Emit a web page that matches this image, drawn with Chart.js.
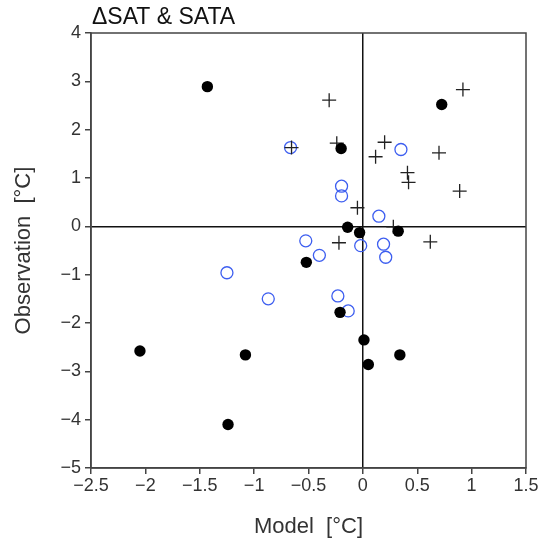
<!DOCTYPE html>
<html lang="en">
<head>
    <meta charset="UTF-8">
    <title>ΔSAT &amp; SATA</title>
    <script src="https://cdn.jsdelivr.net/npm/chart.js"></script>
    <style>
        body {
            margin: 0;
            background: #fff;
        }
        canvas {
            display: block;
        }
    </style>
</head>
<body>
    <canvas id="satChart" width="550" height="542"></canvas>

    <script>
        // Filled black circles
        const filledX = [-1.43, 0.725, -0.20, -0.14, -0.03, 0.325, -0.52, -0.21, 0.01, 0.34, 0.05, -2.05, -1.08, -1.24];
        const filledY = [2.89, 2.52, 1.61, -0.02, -0.13, -0.10, -0.745, -1.78, -2.35, -2.66, -2.86, -2.58, -2.66, -4.10];

        // Open blue circles
        const openX = [-0.665, 0.35, -0.196, -0.196, 0.147, -0.525, -0.40, -0.02, 0.19, 0.21, -1.25, -0.87, -0.23, -0.135];
        const openY = [1.63, 1.59, 0.83, 0.63, 0.21, -0.30, -0.60, -0.40, -0.37, -0.64, -0.96, -1.50, -1.44, -1.75];

        // Plus markers
        const plusX = [-0.31, 0.92, -0.656, -0.24, 0.20, 0.117, 0.70, 0.41, 0.42, 0.89, -0.05, 0.28, -0.22, 0.62];
        const plusY = [2.61, 2.83, 1.63, 1.72, 1.74, 1.44, 1.52, 1.11, 0.91, 0.73, 0.385, -0.01, -0.34, -0.32];

        const xTicks = [-2.5, -2, -1.5, -1, -0.5, 0, 0.5, 1, 1.5];
        const yTicks = [4, 3, 2, 1, 0, -1, -2, -3, -4, -5];

        const toPoints = (xs, ys) => xs.map((x, i) => ({ x, y: ys[i] }));
        const minus = v => String(v).replace('-', '\u2212');

        const fontFamily = "'Liberation Sans', Arial, sans-serif";
        const textColor = '#333';
        const axisColor = '#444';

        // frame on top/right plus the title text
        const frame = {
            id: 'frame',
            afterDraw(chart) {
                const { ctx, chartArea: a } = chart;
                ctx.save();
                ctx.strokeStyle = axisColor;
                ctx.lineWidth = 1.5;
                ctx.strokeRect(a.left, a.top, a.right - a.left, a.bottom - a.top);
                ctx.fillStyle = '#111';
                ctx.font = '23px ' + fontFamily;
                ctx.textBaseline = 'alphabetic';
                ctx.fillText('\u0394SAT & SATA', 92, 24);
                ctx.restore();
            }
        };

        const zeroGrid = ctx => ctx.tick && ctx.tick.value === 0 ? '#111' : 'rgba(0,0,0,0)';

        new Chart(document.getElementById('satChart'), {
            type: 'scatter',
            data: {
                datasets: [
                    {
                        label: 'filled',
                        data: toPoints(filledX, filledY),
                        pointStyle: 'circle',
                        pointRadius: 5.7,
                        backgroundColor: '#000',
                        borderColor: '#000',
                        borderWidth: 0
                    },
                    {
                        label: 'plus',
                        data: toPoints(plusX, plusY),
                        pointStyle: 'cross',
                        pointRadius: 7,
                        borderColor: '#222',
                        borderWidth: 1.3
                    },
                    {
                        label: 'open',
                        data: toPoints(openX, openY),
                        pointStyle: 'circle',
                        pointRadius: 6,
                        backgroundColor: 'rgba(0,0,0,0)',
                        borderColor: '#3d5ef0',
                        borderWidth: 1.3
                    }
                ]
            },
            options: {
                responsive: false,
                animation: false,
                layout: { padding: { top: 33, right: 24, left: 0, bottom: 0 } },
                plugins: {
                    legend: { display: false },
                    tooltip: { enabled: false }
                },
                scales: {
                    x: {
                        type: 'linear',
                        min: -2.5,
                        max: 1.5,
                        afterBuildTicks: s => { s.ticks = xTicks.map(v => ({ value: v })); },
                        afterFit: s => { s.height = 74; },
                        ticks: {
                            color: textColor,
                            font: { family: fontFamily, size: 18 },
                            padding: 1,
                            maxRotation: 0,
                            callback: v => minus(v)
                        },
                        grid: { color: zeroGrid, lineWidth: 1.5, tickColor: axisColor, tickLength: 6 },
                        border: { color: axisColor, width: 1.5 },
                        title: {
                            display: true,
                            text: 'Model  [°C]',
                            color: textColor,
                            font: { family: fontFamily, size: 22 },
                            padding: { top: 0, bottom: 2 }
                        }
                    },
                    y: {
                        type: 'linear',
                        min: -5,
                        max: 4,
                        afterBuildTicks: s => { s.ticks = yTicks.map(v => ({ value: v })); },
                        afterFit: s => { s.width = 91; },
                        ticks: {
                            color: textColor,
                            font: { family: fontFamily, size: 18 },
                            padding: 4,
                            callback: v => minus(v)
                        },
                        grid: { color: zeroGrid, lineWidth: 1.5, tickColor: axisColor, tickLength: 6 },
                        border: { color: axisColor, width: 1.5 },
                        title: {
                            display: true,
                            text: 'Observation  [°C]',
                            color: textColor,
                            font: { family: fontFamily, size: 22 },
                            padding: { top: 11, bottom: 0 }
                        }
                    }
                }
            },
            plugins: [frame]
        });
    </script>
</body>
</html>
